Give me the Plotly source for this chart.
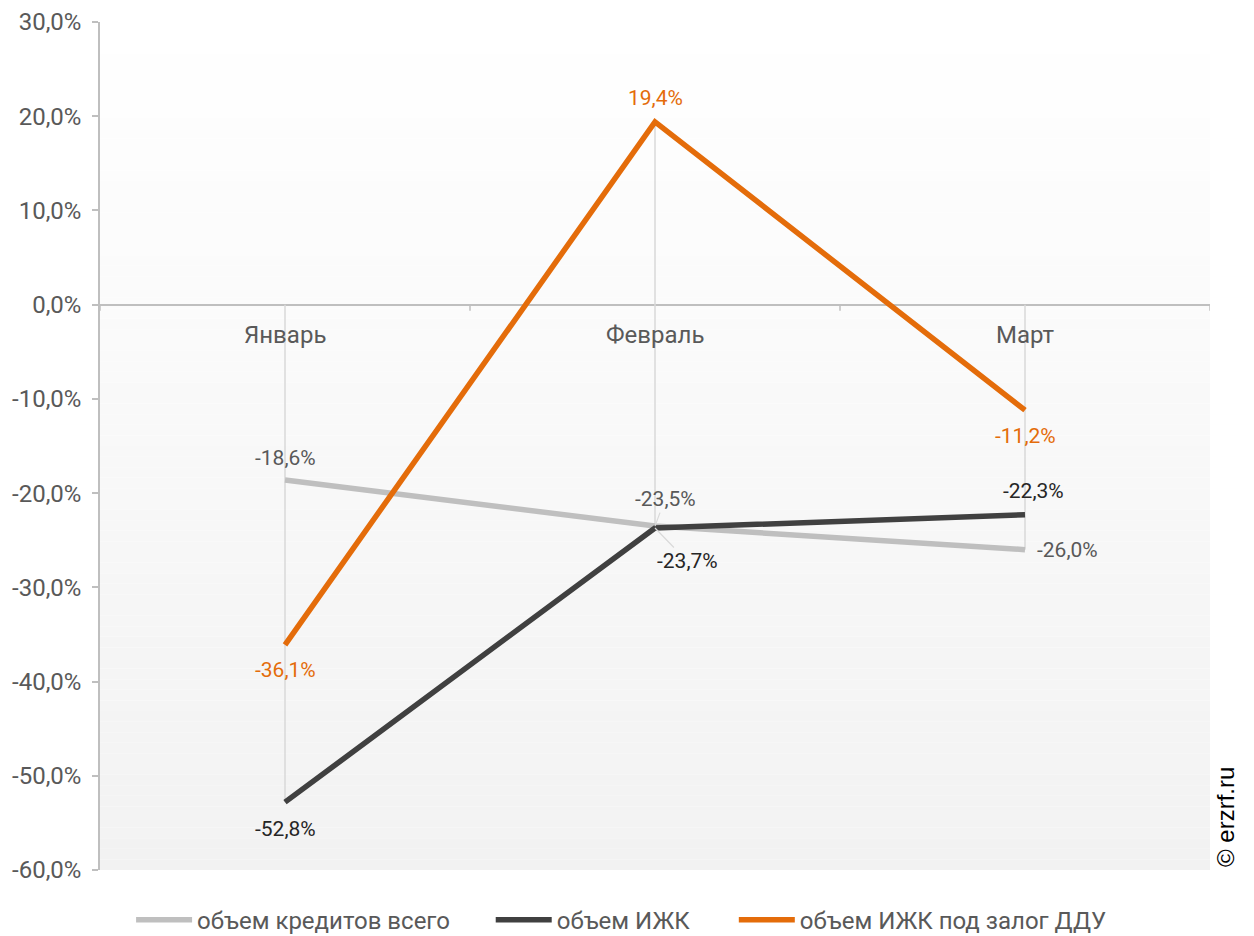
import plotly.graph_objects as go

categories = ["Январь", "Февраль", "Март"]
credit_total = [-18.6, -23.5, -26.0]
izhk = [-52.8, -23.7, -22.3]
izhk_ddu = [-36.1, 19.4, -11.2]
series_names = ["объем кредитов всего", "объем ИЖК", "объем ИЖК под залог ДДУ"]
y_ticks = [30, 20, 10, 0, -10, -20, -30, -40, -50, -60]

line_colors = ["#bfbfbf", "#404040", "#e46c0a"]
label_colors = ["#595959", "#262626", "#e46c0a"]
FONT = "Roboto"

all_series = [credit_total, izhk, izhk_ddu]

fig = go.Figure()

# drop lines from axis (0) to the extreme values of each category
dx, dy = [], []
for i, c in enumerate(categories):
    vals = [s[i] for s in all_series] + [0]
    dx += [c, c, None]
    dy += [min(vals), max(vals), None]
fig.add_trace(go.Scatter(x=dx, y=dy, mode="lines", line=dict(color="#d9d9d9", width=1.5),
                         showlegend=False, hoverinfo="skip"))

legend_ids = ["legend", "legend2", "legend3"]
for name, vals, col, lid in zip(series_names, all_series, line_colors, legend_ids):
    fig.add_trace(go.Scatter(x=categories, y=vals, mode="lines", name=name, legend=lid,
                             line=dict(color=col, width=5.5)))

# label offsets (pixels) per series / category: (ax, ay) with leader flag
offsets = [
    [(0, -22, False), (10, -27, True), (42, 0, False)],
    [(0, 27, False), (32, 33, True), (8, -24, False)],
    [(0, 25, False), (0, -24, False), (0, 26, False)],
]

annotations = []
for s_idx, (vals, lcol) in enumerate(zip(all_series, label_colors)):
    for i, v in enumerate(vals):
        ox, oy, leader = offsets[s_idx][i]
        txt = f"{v:.1f}%".replace(".", ",")
        if leader:
            annotations.append(dict(x=categories[i], y=v, xref="x", yref="y", text=txt,
                                    showarrow=True, arrowhead=0, arrowwidth=1.2,
                                    arrowcolor="#d9d9d9", ax=ox, ay=oy, standoff=0,
                                    font=dict(family=FONT, size=21, color=lcol)))
        else:
            annotations.append(dict(x=categories[i], y=v, xref="x", yref="y", text=txt,
                                    showarrow=False, xshift=ox, yshift=-oy,
                                    font=dict(family=FONT, size=21, color=lcol)))

# category labels just below the zero axis
for c in categories:
    annotations.append(dict(x=c, y=0, xref="x", yref="y", text=c, showarrow=False,
                            yshift=-30, font=dict(family=FONT, size=24, color="#595959")))

# watermark
annotations.append(dict(x=1.0135, y=0.0625, xref="paper", yref="paper", text="© erzrf.ru",
                        showarrow=False, textangle=-90, xanchor="center", yanchor="middle",
                        font=dict(family="Liberation Sans", size=24, color="#000000")))

# gradient background
shapes = []
n = 80
for k in range(n):
    t = (k + 0.5) / n  # 0 bottom -> 1 top
    g = round(242 + (255 - 242) * t)
    shapes.append(dict(type="rect", xref="paper", yref="paper", x0=0, x1=1,
                       y0=k / n, y1=(k + 1) / n, fillcolor=f"rgb({g},{g},{g})",
                       line=dict(width=0), layer="below"))

# x tick marks at category boundaries on the zero line
for k in range(len(categories) + 1):
    shapes.append(dict(type="line", xref="x", yref="y", x0=k - 0.5, x1=k - 0.5,
                       ysizemode="pixel", yanchor=0, y0=0, y1=-6,
                       line=dict(color="#bfbfbf", width=1.5)))

legend_style = dict(orientation="h", xanchor="left", y=-0.059, yanchor="middle",
                    font=dict(family=FONT, size=24, color="#595959"), itemwidth=56,
                    bgcolor="rgba(0,0,0,0)")
fig.update_layout(
    width=1254, height=936,
    margin=dict(l=100, r=44, t=22, b=66, autoexpand=False),
    paper_bgcolor="white", plot_bgcolor="white",
    separators=", ",
    font=dict(family=FONT, size=18, color="#595959"),
    showlegend=True,
    legend=dict(x=0.028, **legend_style),
    legend2=dict(x=0.352, **legend_style),
    legend3=dict(x=0.571, **legend_style),
    annotations=annotations,
    shapes=shapes,
)
fig.update_xaxes(type="category", range=[-0.5, 2.5], showticklabels=False, showgrid=False,
                 zeroline=False, showline=False, ticks="", automargin=False)
fig.update_yaxes(range=[-60, 30], tickvals=y_ticks, automargin=False,
                 ticktext=[f"{v:.1f}%".replace(".", ",") for v in y_ticks],
                 showgrid=False, zeroline=True, zerolinecolor="#bfbfbf", zerolinewidth=1.5,
                 showline=True, linecolor="#bfbfbf", linewidth=1.5, ticks="outside",
                 ticklen=6, tickcolor="#bfbfbf", tickwidth=1.5, ticklabelstandoff=6,
                 tickfont=dict(family=FONT, size=24, color="#595959"))

fig.write_html("out.html", config={"displayModeBar": False},
               post_script="document.body.style.margin='0';")
